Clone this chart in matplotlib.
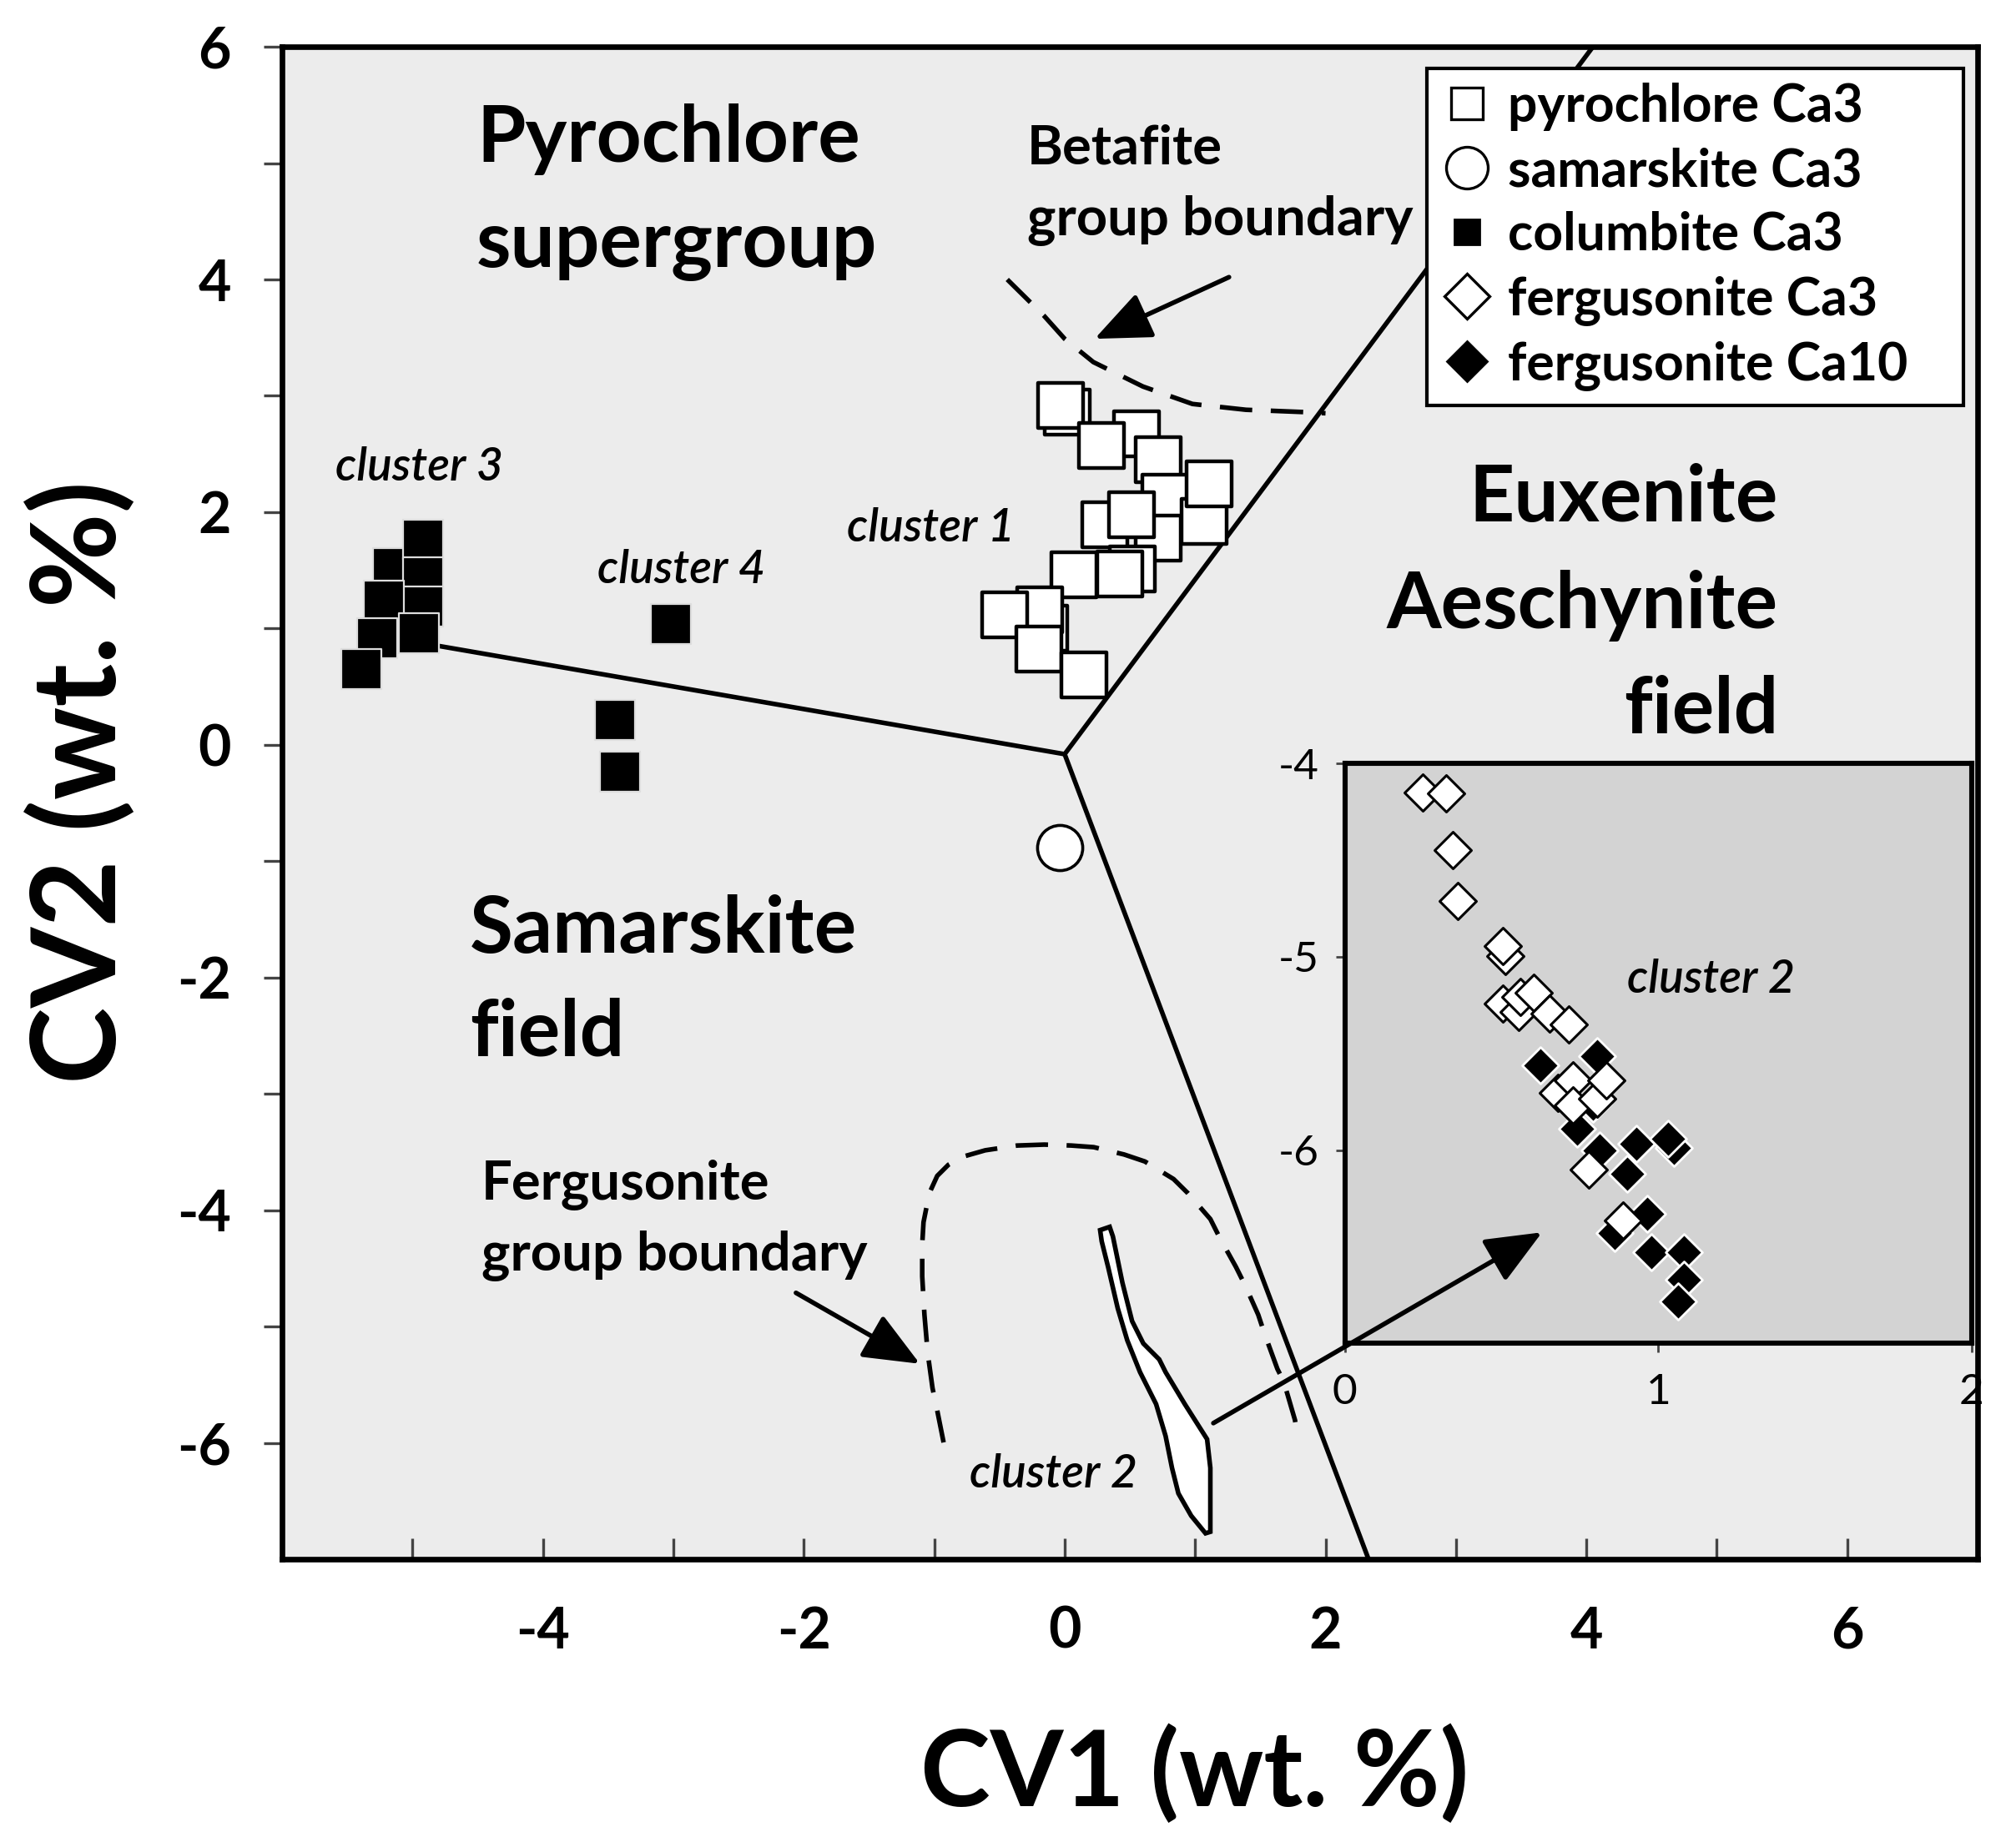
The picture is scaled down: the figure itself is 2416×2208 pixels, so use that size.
import matplotlib
matplotlib.use('Agg')
import matplotlib.pyplot as plt
from matplotlib.lines import Line2D
from matplotlib.patches import Polygon, ConnectionPatch

plt.rcParams['font.family'] = ['Lato', 'DejaVu Sans']
plt.rcParams['axes.unicode_minus'] = False

# ---------------- data ----------------
pyro_x = [0.02, -0.03, 0.55, 0.28, 0.72, 0.77, 1.07, 1.11, 0.72, 0.31, 0.51,
          0.52, 0.42, 0.07, -0.15, -0.19, -0.46, -0.20, 0.15]
pyro_y = [2.86, 2.92, 2.67, 2.57, 2.45, 2.13, 1.92, 2.24, 1.78, 1.89, 1.98,
          1.51, 1.47, 1.46, 1.00, 1.16, 1.12, 0.82, 0.60]

col_x = [-5.15, -4.92, -4.92, -4.92, -5.22, -5.27, -4.95, -5.39, -3.02, -3.45, -3.41]
col_y = [1.52, 1.76, 1.44, 1.19, 1.24, 0.92, 0.96, 0.65, 1.04, 0.215, -0.23]

sam_x = [-0.04]
sam_y = [-0.88]

# inset (cluster 2) data
ferg10_x = [0.624, 0.805, 0.791, 0.742, 0.812, 0.930, 1.049, 1.030, 0.902,
            0.861, 0.965, 0.979, 1.083, 1.083, 1.063]
ferg10_y = [-5.560, -5.516, -5.758, -5.890, -6.000, -5.967, -5.989, -5.940, -6.122,
            -6.430, -6.331, -6.529, -6.529, -6.672, -6.783]
ferg3_x = [0.248, 0.324, 0.345, 0.359, 0.512, 0.505, 0.505, 0.554, 0.561, 0.603,
           0.652, 0.714, 0.680, 0.728, 0.728, 0.805, 0.833, 0.777, 0.888]
ferg3_y = [-4.150, -4.156, -4.447, -4.712, -4.998, -4.943, -5.240, -5.284, -5.207,
           -5.185, -5.295, -5.350, -5.703, -5.637, -5.769, -5.736, -5.637, -6.100, -6.364]

# field boundaries
bnd_left_x, bnd_left_y = [-4.85, 0.0], [0.86, -0.08]
bnd_up_x, bnd_up_y = [0.0, 4.05], [-0.08, 6.0]
bnd_low_x, bnd_low_y = [0.0, 2.33], [-0.08, -7.0]

betafite_x = [-0.44, -0.16, 0.0, 0.22, 0.60, 0.98, 1.39, 1.84, 2.0]
betafite_y = [4.0, 3.69, 3.49, 3.29, 3.08, 2.93, 2.88, 2.86, 2.85]

ferg_bnd_x = [-0.928, -0.977, -1.013, -1.050, -1.075, -1.092, -1.092, -1.082, -1.038,
              -0.977, -0.891, -0.781, -0.609, -0.365, -0.156, 0.052, 0.223, 0.456,
              0.615, 0.835, 0.946, 1.117, 1.190, 1.313, 1.386, 1.484, 1.533, 1.631,
              1.680, 1.766, 1.78]
ferg_bnd_y = [-5.996, -5.721, -5.529, -5.227, -4.898, -4.569, -4.295, -4.103, -3.855,
              -3.705, -3.609, -3.540, -3.485, -3.444, -3.436, -3.444, -3.458, -3.521,
              -3.581, -3.732, -3.855, -4.076, -4.239, -4.487, -4.651, -4.898, -5.063,
              -5.364, -5.474, -5.804, -5.90]

cl2_x = [0.272, 0.345, 0.370, 0.443, 0.517, 0.603, 0.725, 0.774, 0.921, 1.092, 1.117,
         1.117, 1.080, 0.970, 0.872, 0.823, 0.774, 0.701, 0.578, 0.480, 0.407, 0.333, 0.284]
cl2_y = [-4.171, -4.143, -4.226, -4.624, -4.953, -5.145, -5.282, -5.392, -5.666, -5.968,
         -6.215, -6.764, -6.777, -6.626, -6.434, -6.215, -5.941, -5.666, -5.392, -5.118,
         -4.843, -4.487, -4.267]

legend_labels = ['pyrochlore Ca3', 'samarskite Ca3', 'columbite Ca3',
                 'fergusonite Ca3', 'fergusonite Ca10']

# ---------------- figure ----------------
fig = plt.figure(figsize=(12.08, 11.04), dpi=200)
ax = fig.add_axes([0.1399, 0.1535, 0.8411, 0.8211])
ax.set_facecolor('#ececec')
ax.set_xlim(-6, 7)
ax.set_ylim(-7, 6)

for s in ax.spines.values():
    s.set_linewidth(2.4)

ax.set_xticks([-4, -2, 0, 2, 4, 6])
ax.set_xticks([-5, -3, -1, 1, 3, 5], minor=True)
ax.set_yticks([-6, -4, -2, 0, 2, 4, 6])
ax.set_yticks([-5, -3, -1, 1, 3, 5], minor=True)
ax.tick_params(axis='x', which='both', direction='in', length=9, width=1.2,
               color='#444444', pad=20, labelsize=24.5)
ax.tick_params(axis='y', which='both', direction='out', length=8, width=1.2,
               color='#444444', pad=14, labelsize=24.5)
for lab in ax.get_xticklabels() + ax.get_yticklabels():
    lab.set_fontweight('bold')

ax.set_xlabel('CV1 (wt. %)', fontsize=45.5, fontweight='bold')
ax.xaxis.set_label_coords(0.538, -0.109)
ax.set_ylabel('CV2 (wt. %)', fontsize=50, fontweight='bold')
ax.yaxis.set_label_coords(-0.086, 0.514)

# boundaries
lk = dict(color='black', lw=2.0, zorder=2)
ax.plot(bnd_left_x, bnd_left_y, **lk)
ax.plot(bnd_up_x, bnd_up_y, **lk)
ax.plot(bnd_low_x, bnd_low_y, **lk)
ax.plot(betafite_x, betafite_y, color='black', lw=2.0, dashes=(7, 4), zorder=2)
ax.plot(ferg_bnd_x, ferg_bnd_y, color='black', lw=2.0, dashes=(7, 4), zorder=2)

ax.add_patch(Polygon(list(zip(cl2_x, cl2_y)), closed=True, facecolor='white',
                     edgecolor='black', lw=2.0, zorder=3))

# markers
ax.scatter(pyro_x, pyro_y, marker='s', s=380, facecolor='white', edgecolor='black',
           linewidth=1.6, zorder=4)
ax.scatter(col_x, col_y, marker='s', s=300, facecolor='black', edgecolor='#dddddd',
           linewidth=0.8, zorder=4)
ax.scatter(sam_x, sam_y, marker='o', s=380, facecolor='white', edgecolor='black',
           linewidth=1.3, zorder=4)

# arrows
astyle = '-|>,head_length=0.8,head_width=0.34'
ak = dict(arrowstyle=astyle, lw=2.0, color='black', shrinkA=0, shrinkB=0,
          mutation_scale=26)
ax.annotate('', xy=(0.23, 3.49), xytext=(1.26, 4.02), arrowprops=ak, zorder=5)
ax.annotate('', xy=(-1.11, -5.32), xytext=(-2.06, -4.71), arrowprops=ak, zorder=5)

# region labels
big = dict(fontsize=34, fontweight='bold', zorder=6)
ax.text(-4.51, 5.01, 'Pyrochlore', ha='left', va='baseline', **big)
ax.text(-4.51, 4.11, 'supergroup', ha='left', va='baseline', **big)
ax.text(5.47, 1.92, 'Euxenite', ha='right', va='baseline', **big)
ax.text(5.47, 1.00, 'Aeschynite', ha='right', va='baseline', **big)
ax.text(5.47, 0.10, 'field', ha='right', va='baseline', **big)
ax.text(-4.56, -1.79, 'Samarskite', ha='left', va='baseline', **big)
ax.text(-4.56, -2.67, 'field', ha='left', va='baseline', **big)

mid = dict(fontsize=23.5, fontweight='bold', zorder=6)
ax.text(-0.29, 4.99, 'Betafite', ha='left', va='baseline', **mid)
ax.text(-0.29, 4.38, 'group boundary', ha='left', va='baseline', **mid)
ax.text(-4.47, -3.91, 'Fergusonite', ha='left', va='baseline', **mid)
ax.text(-4.47, -4.52, 'group boundary', ha='left', va='baseline', **mid)

it = dict(fontsize=20, fontstyle='italic', fontweight='semibold', zorder=6)
ax.text(-5.59, 2.27, 'cluster 3', ha='left', va='baseline', **it)
ax.text(-3.58, 1.39, 'cluster 4', ha='left', va='baseline', **it)
ax.text(-1.67, 1.75, 'cluster 1', ha='left', va='baseline', **it)
ax.text(-0.73, -6.38, 'cluster 2', ha='left', va='baseline', **it)

# legend
handles = [
    Line2D([], [], ls='none', marker='s', ms=14, mfc='white', mec='black', mew=1.2),
    Line2D([], [], ls='none', marker='o', ms=18, mfc='white', mec='black', mew=1.2),
    Line2D([], [], ls='none', marker='s', ms=11, mfc='black', mec='black', mew=1.0),
    Line2D([], [], ls='none', marker='D', ms=13.5, mfc='white', mec='black', mew=1.2),
    Line2D([], [], ls='none', marker='D', ms=12, mfc='black', mec='black', mew=1.0),
]
leg = ax.legend(handles, legend_labels, loc='upper left',
                bbox_to_anchor=(0.675, 0.7623, 0.3164, 0.2235), mode='expand',
                borderaxespad=0, fancybox=False, framealpha=1, edgecolor='black',
                prop=dict(size=22.5, weight='bold'), borderpad=0.28, labelspacing=0.3,
                handlelength=1.0, handletextpad=0.27)
leg.get_frame().set_linewidth(1.5)
leg.set_zorder(7)

# inset
axins = ax.inset_axes([2.148, -5.145, 4.806, 4.985], transform=ax.transData)
axins.set_zorder(8)
axins.set_facecolor('#d3d3d3')
axins.set_xlim(0, 2)
axins.set_ylim(-7, -4)
for s in axins.spines.values():
    s.set_linewidth(2.2)
axins.set_xticks([0, 1, 2])
axins.set_yticks([-6, -5, -4])
axins.tick_params(axis='both', direction='out', length=4, width=1.0, color='#444444',
                  labelsize=18.5)
axins.tick_params(axis='x', pad=9)
axins.tick_params(axis='y', pad=7)
axins.scatter(ferg10_x, ferg10_y, marker='D', s=125, facecolor='black', edgecolor='white',
              linewidth=1.0, zorder=3)
axins.scatter(ferg3_x, ferg3_y, marker='D', s=125, facecolor='white', edgecolor='black',
              linewidth=1.1, zorder=4)
axins.text(0.90, -5.185, 'cluster 2', ha='left', va='baseline', fontsize=20,
           fontstyle='italic', fontweight='semibold')

con = ConnectionPatch(xyA=(1.14, -5.83), xyB=(3.66, -4.19), coordsA='data', coordsB='data',
                      axesA=ax, axesB=ax, arrowstyle=astyle,
                      mutation_scale=26, lw=2.0, color='black', shrinkA=0, shrinkB=0)
con.set_zorder(10)
fig.add_artist(con)

fig.savefig('out.png', dpi=200)
